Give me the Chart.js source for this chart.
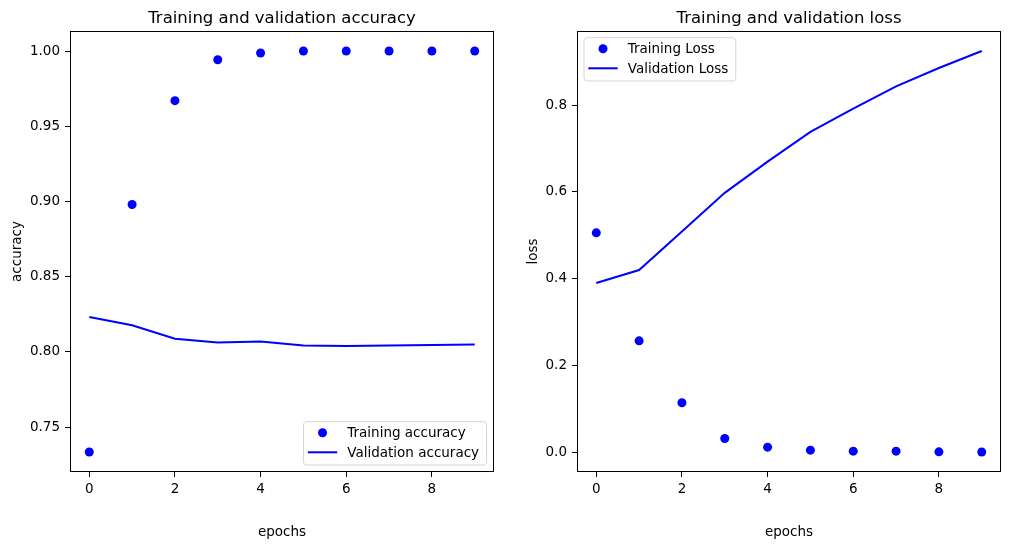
<!DOCTYPE html>
<html><head><meta charset="utf-8">
<script src="https://cdn.jsdelivr.net/npm/chart.js@4/dist/chart.umd.min.js"></script>
<style>
html,body{margin:0;padding:0;background:#fff;}
#wrap{position:relative;width:1010px;height:547px;background:#fff;}
canvas{position:absolute;top:0;}
</style>
</head><body>
<div id="wrap">
<canvas id="c1" width="505" height="547" style="left:0px"></canvas>
<canvas id="c2" width="505" height="547" style="left:505px"></canvas>
</div>
<script>
// ---- data ----
const epochs = [0, 1, 2, 3, 4, 5, 6, 7, 8, 9];
const trainAcc = [0.7335, 0.898, 0.967, 0.9942, 0.9987, 1.0, 1.0, 1.0, 1.0, 1.0];
const valAcc = [0.8232, 0.8177, 0.8088, 0.8062, 0.8070, 0.8042, 0.8040, 0.8042, 0.8046, 0.8050];
const trainLoss = [0.5057, 0.2566, 0.1140, 0.0313, 0.0115, 0.0046, 0.0023, 0.0023, 0.0006, 0.0004];
const valLoss = [0.390, 0.420, 0.509, 0.598, 0.670, 0.7386, 0.792, 0.8437, 0.886, 0.925];
const xTicks = [0, 2, 4, 6, 8];
const accTicks = [0.75, 0.80, 0.85, 0.90, 0.95, 1.00];
const lossTicks = [0.0, 0.2, 0.4, 0.6, 0.8];

const FAMILY = "'DejaVu Sans', sans-serif";
const TICK = 13.5, TITLE = 16.5;
const BLUE = '#0000ff';

function padRange(vals) {
  const mn = Math.min(...vals), mx = Math.max(...vals);
  const m = (mx - mn) * 0.05;
  return [mn - m, mx + m];
}

const mplPlugin = {
  id: 'mpl',
  afterDraw(chart, args, o) {
    const ctx = chart.ctx, a = chart.chartArea;
    ctx.save();
    // frame
    ctx.strokeStyle = '#000'; ctx.lineWidth = 1;
    ctx.strokeRect(Math.round(a.left) + 0.5, Math.round(a.top) + 0.5,
      Math.round(a.right) - Math.round(a.left) - 1, Math.round(a.bottom) - Math.round(a.top) - 1);
    ctx.fillStyle = '#000';
    // title
    ctx.font = TITLE + 'px ' + FAMILY;
    ctx.textAlign = 'center'; ctx.textBaseline = 'alphabetic';
    ctx.fillText(o.title, (a.left + a.right) / 2, a.top - 8);
    // x label
    ctx.font = TICK + 'px ' + FAMILY;
    ctx.fillText(o.xlabel, (a.left + a.right) / 2, a.bottom + 64);
    // y label
    const ys = chart.scales.y;
    let maxW = 0;
    ys.ticks.forEach(t => { maxW = Math.max(maxW, ctx.measureText(o.yfmt(t.value)).width); });
    const bx = a.left - 5 - 4.8 - maxW - 5.5 - 3.2;
    ctx.save();
    ctx.translate(bx, (a.top + a.bottom) / 2);
    ctx.rotate(-Math.PI / 2);
    ctx.textAlign = 'center'; ctx.textBaseline = 'alphabetic';
    ctx.fillText(o.ylabel, 0, 0);
    ctx.restore();
    // legend
    const labels = chart.data.datasets.map(d => d.label);
    ctx.font = TICK + 'px ' + FAMILY;
    const tw = Math.max(...labels.map(l => ctx.measureText(l).width));
    const w = 43.7 + tw + 7.5, h = 43.3;
    let bxl, byt;
    if (o.legendLoc === 'lower right') { bxl = a.right - 7.4 - w; byt = a.bottom - 7 - h; }
    else { bxl = a.left + 7; byt = a.top + 6.7; }
    ctx.beginPath();
    const r = 3;
    ctx.moveTo(bxl + r, byt);
    ctx.arcTo(bxl + w, byt, bxl + w, byt + h, r);
    ctx.arcTo(bxl + w, byt + h, bxl, byt + h, r);
    ctx.arcTo(bxl, byt + h, bxl, byt, r);
    ctx.arcTo(bxl, byt, bxl + w, byt, r);
    ctx.closePath();
    ctx.fillStyle = 'rgba(255,255,255,0.8)'; ctx.fill();
    ctx.strokeStyle = '#d6d6d6'; ctx.lineWidth = 1; ctx.stroke();
    const row1 = byt + 11, row2 = byt + 30.6;
    // marker
    ctx.fillStyle = BLUE;
    ctx.beginPath(); ctx.arc(bxl + 19, row1, 4.5, 0, Math.PI * 2); ctx.fill();
    // line
    ctx.strokeStyle = BLUE; ctx.lineWidth = 2;
    ctx.beginPath(); ctx.moveTo(bxl + 4.3, row2); ctx.lineTo(bxl + 33.7, row2); ctx.stroke();
    ctx.fillStyle = '#000';
    ctx.textAlign = 'left'; ctx.textBaseline = 'middle';
    ctx.fillText(labels[0], bxl + 43.7, row1 + 1);
    ctx.fillText(labels[1], bxl + 43.7, row2 + 1);
    ctx.restore();
  }
};

function buildChart(id, cfg) {
  const [xmin, xmax] = padRange(epochs);
  const [ymin, ymax] = padRange(cfg.train.concat(cfg.val));
  return new Chart(document.getElementById(id), {
    type: 'line',
    data: {
      datasets: [
        { label: cfg.trainLabel, data: epochs.map((e, i) => ({ x: e, y: cfg.train[i] })),
          showLine: false, pointRadius: 4.5, pointHoverRadius: 4.5, pointBackgroundColor: BLUE,
          pointBorderWidth: 0, borderColor: BLUE, backgroundColor: BLUE, pointStyle: 'circle' },
        { label: cfg.valLabel, data: epochs.map((e, i) => ({ x: e, y: cfg.val[i] })),
          borderColor: BLUE, borderWidth: 2, pointRadius: 0, pointHoverRadius: 0, fill: false, tension: 0 }
      ]
    },
    options: {
      responsive: false, animation: false, devicePixelRatio: 1,
      events: [],
      layout: { padding: { top: 31, left: 0, right: cfg.padRight, bottom: 0 } },
      plugins: {
        legend: { display: false }, tooltip: { enabled: false }, title: { display: false },
        mpl: { title: cfg.title, xlabel: 'epochs', ylabel: cfg.ylabel, yfmt: cfg.yfmt, legendLoc: cfg.legendLoc }
      },
      scales: {
        x: {
          type: 'linear', min: xmin, max: xmax,
          afterBuildTicks: s => { s.ticks = xTicks.map(v => ({ value: v })); },
          afterFit: s => { s.height = 75; },
          grid: { drawOnChartArea: false, drawTicks: true, tickLength: 5, color: '#000', lineWidth: 1 },
          border: { display: false },
          ticks: { padding: 4, autoSkip: false, maxRotation: 0, color: '#000',
            font: { family: FAMILY, size: TICK }, callback: v => String(v) }
        },
        y: {
          type: 'linear', min: ymin, max: ymax,
          afterBuildTicks: s => { s.ticks = cfg.yTicks.map(v => ({ value: v })); },
          afterFit: s => { s.width = cfg.yWidth; },
          grid: { drawOnChartArea: false, drawTicks: true, tickLength: 5, color: '#000', lineWidth: 1 },
          border: { display: false },
          ticks: { padding: 5, autoSkip: false, color: '#000',
            font: { family: FAMILY, size: TICK }, callback: v => cfg.yfmt(v) }
        }
      }
    },
    plugins: [mplPlugin]
  });
}

buildChart('c1', {
  title: 'Training and validation accuracy', ylabel: 'accuracy',
  trainLabel: 'Training accuracy', valLabel: 'Validation accuracy',
  train: trainAcc, val: valAcc, yTicks: accTicks, yfmt: v => v.toFixed(2),
  legendLoc: 'lower right', yWidth: 70, padRight: 11
});
buildChart('c2', {
  title: 'Training and validation loss', ylabel: 'loss',
  trainLabel: 'Training Loss', valLabel: 'Validation Loss',
  train: trainLoss, val: valLoss, yTicks: lossTicks, yfmt: v => v.toFixed(1),
  legendLoc: 'upper left', yWidth: 72, padRight: 9
});
</script>
</body></html>
